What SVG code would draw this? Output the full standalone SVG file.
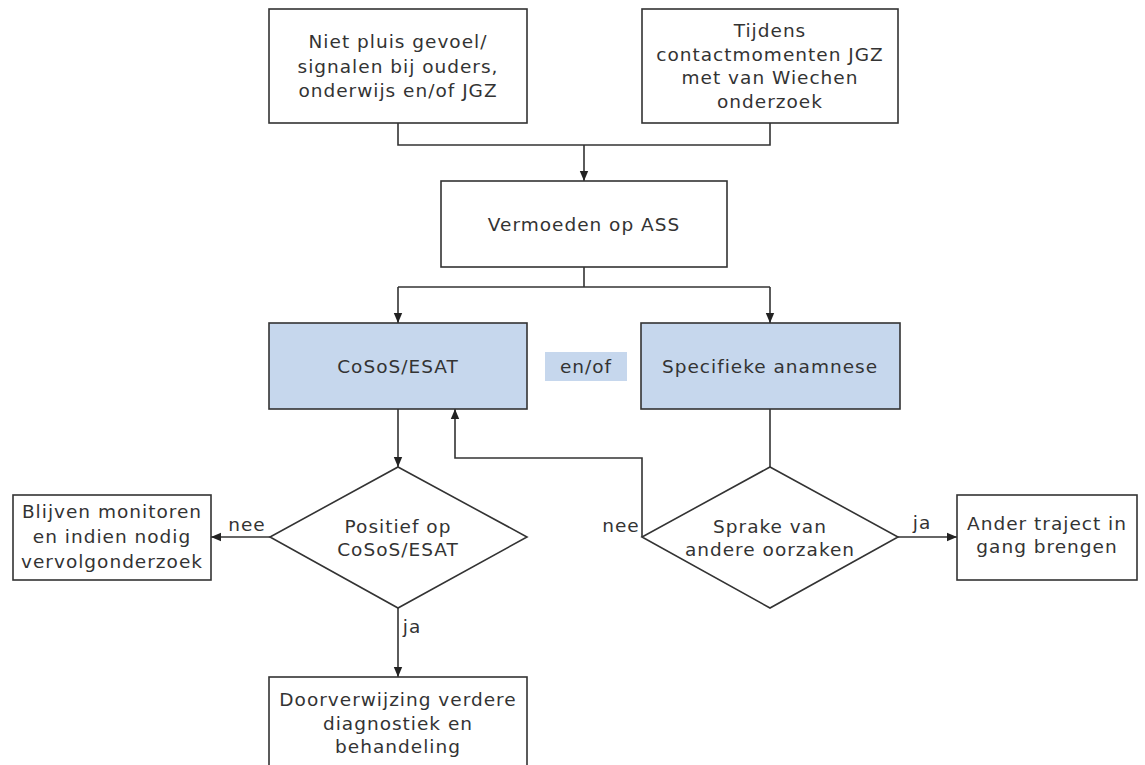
<svg xmlns="http://www.w3.org/2000/svg" width="1145" height="765" viewBox="0 0 1145 765">
<style>
.box{fill:#ffffff;stroke:#333333;stroke-width:1.6}
.blue{fill:#c6d7ed;stroke:#333333;stroke-width:1.6}
.line{fill:none;stroke:#333333;stroke-width:1.6}
text{font-family:"DejaVu Sans","Verdana",sans-serif;font-size:18.5px;letter-spacing:1px;fill:#333333;text-anchor:middle}
</style>
<defs>
<marker id="arr" markerUnits="userSpaceOnUse" markerWidth="10" markerHeight="10" viewBox="0 0 10 10" refX="10" refY="5" orient="auto">
<path d="M0,0.8 L10,5 L0,9.2 Z" fill="#222222"/>
</marker>
</defs>
<rect width="1145" height="765" fill="#ffffff"/>
<g id="connectors">
<path class="line" d="M398,123 V145 H770 V123"/>
<path class="line" d="M584,145 V181" marker-end="url(#arr)"/>
<path class="line" d="M584,267 V287"/>
<path class="line" d="M398,287 H770"/>
<path class="line" d="M398,287 V323" marker-end="url(#arr)"/>
<path class="line" d="M770,287 V323" marker-end="url(#arr)"/>
<path class="line" d="M398,409 V467" marker-end="url(#arr)"/>
<path class="line" d="M770,409 V467"/>
<path class="line" d="M642,537 V458 H455 V409" marker-end="url(#arr)"/>
<path class="line" d="M270,537 H211" marker-end="url(#arr)"/>
<path class="line" d="M398,608 V677" marker-end="url(#arr)"/>
<path class="line" d="M898,537 H957" marker-end="url(#arr)"/>
<text x="247" y="531">nee</text>
<text x="621" y="532">nee</text>
<text x="922" y="529">ja</text>
<text x="412" y="633">ja</text>
</g>
<g id="n1">
<rect class="box" x="269" y="9" width="258" height="114"/>
<text x="398" y="48">Niet pluis gevoel/</text>
<text x="398" y="73">signalen bij ouders,</text>
<text x="398" y="97">onderwijs en/of JGZ</text>
</g>
<g id="n2">
<rect class="box" x="642" y="9" width="256" height="114"/>
<text x="770" y="37">Tijdens</text>
<text x="770" y="61">contactmomenten JGZ</text>
<text x="770" y="84">met van Wiechen</text>
<text x="770" y="108">onderzoek</text>
</g>
<g id="n3">
<rect class="box" x="441" y="181" width="286" height="86"/>
<text x="584" y="231">Vermoeden op ASS</text>
</g>
<g id="n4">
<rect class="blue" x="269" y="323" width="258" height="86"/>
<text x="398" y="373">CoSoS/ESAT</text>
</g>
<g id="n5">
<rect x="545" y="352" width="82" height="29" fill="#c6d7ed"/>
<text x="586" y="373">en/of</text>
</g>
<g id="n6">
<rect class="blue" x="641" y="323" width="259" height="86"/>
<text x="770" y="373">Specifieke anamnese</text>
</g>
<g id="n7">
<polygon class="box" points="398,467 527,537 398,608 270,537"/>
<text x="398" y="533">Positief op</text>
<text x="398" y="556">CoSoS/ESAT</text>
</g>
<g id="n8">
<polygon class="box" points="770,467 898,537 770,608 642,537"/>
<text x="770" y="533">Sprake van</text>
<text x="770" y="556">andere oorzaken</text>
</g>
<g id="n9">
<rect class="box" x="13" y="495" width="198" height="85"/>
<text x="112" y="518">Blijven monitoren</text>
<text x="112" y="543">en indien nodig</text>
<text x="112" y="568">vervolgonderzoek</text>
</g>
<g id="n10">
<rect class="box" x="957" y="495" width="180" height="85"/>
<text x="1047" y="530">Ander traject in</text>
<text x="1047" y="553">gang brengen</text>
</g>
<g id="n11">
<rect class="box" x="269" y="677" width="258" height="100"/>
<text x="398" y="706">Doorverwijzing verdere</text>
<text x="398" y="730">diagnostiek en</text>
<text x="398" y="753">behandeling</text>
</g>
</svg>
